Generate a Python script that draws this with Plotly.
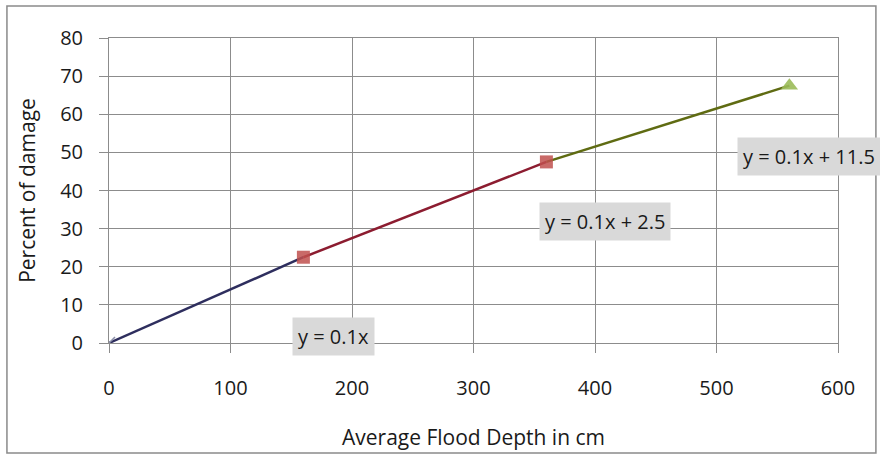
import plotly.graph_objects as go

depth = [0, 160, 360, 560]
damage = [0, 22.5, 47.5, 67.5]
eq_labels = ["y = 0.1x", "y = 0.1x + 2.5", "y = 0.1x + 11.5"]
eq_pos_x = [185, 408, 576]
eq_pos_y = [1.6, 32, 49.0]

seg_colors = ["#2e2e5e", "#8c1c30", "#5f6b12"]
FONT = "Open Sans"

fig = go.Figure()
for i in range(3):
    fig.add_trace(go.Scatter(
        x=depth[i:i + 2], y=damage[i:i + 2], mode="lines",
        line=dict(color=seg_colors[i], width=2.5), showlegend=False, hoverinfo="skip"))

fig.add_trace(go.Scatter(x=[depth[0]], y=[damage[0]], mode="markers",
                         marker=dict(symbol="x-thin", size=12, line=dict(color="#8a8fa8", width=1.5)),
                         showlegend=False))
fig.add_trace(go.Scatter(x=depth[1:3], y=damage[1:3], mode="markers",
                         marker=dict(symbol="square", size=13, color="#c0504d", opacity=0.85),
                         showlegend=False))
fig.add_trace(go.Scatter(x=[depth[3]], y=[damage[3]], mode="markers",
                         marker=dict(symbol="triangle-up", size=15, color="#9bbb59", opacity=0.9),
                         showlegend=False))

for t, ex, ey in zip(eq_labels, eq_pos_x, eq_pos_y):
    fig.add_annotation(x=ex, y=ey, text=t, showarrow=False, bgcolor="#d9d9d9",
                       font=dict(family=FONT, size=20, color="#1a1a1a"), borderpad=5)

fig.add_shape(type="rect", xref="paper", yref="paper", x0=-0.14, x1=1.052, y0=-0.361, y1=1.105,
              line=dict(color="#8a8a8a", width=1.5), fillcolor="rgba(0,0,0,0)")

fig.update_xaxes(range=[0, 600], tickvals=[0, 100, 200, 300, 400, 500, 600],
                 showgrid=True, gridcolor="#8c8c8c", gridwidth=1, zeroline=False,
                 showline=True, linecolor="#8c8c8c", mirror=True, automargin=False,
                 ticks="outside", ticklen=9, tickcolor="#8c8c8c",
                 ticklabelstandoff=18,
                 tickfont=dict(family=FONT, size=20, color="#1a1a1a"),
                 title=dict(text="Average Flood Depth in cm", standoff=30,
                            font=dict(family=FONT, size=21, color="#1a1a1a")))
fig.update_yaxes(range=[0, 80], tickvals=[0, 10, 20, 30, 40, 50, 60, 70, 80],
                 showgrid=True, gridcolor="#8c8c8c", gridwidth=1, zeroline=False,
                 showline=True, linecolor="#8c8c8c", mirror=True, automargin=False,
                 ticks="outside", ticklen=9, tickcolor="#8c8c8c",
                 ticklabelstandoff=12,
                 tickfont=dict(family=FONT, size=20, color="#1a1a1a"),
                 title=dict(text="Percent of damage", standoff=18,
                            font=dict(family=FONT, size=21, color="#1a1a1a")))

fig.update_layout(width=880, height=455, margin=dict(l=109, r=42, t=38, b=112),
                  plot_bgcolor="white", paper_bgcolor="white")

fig.write_html("out.html")
